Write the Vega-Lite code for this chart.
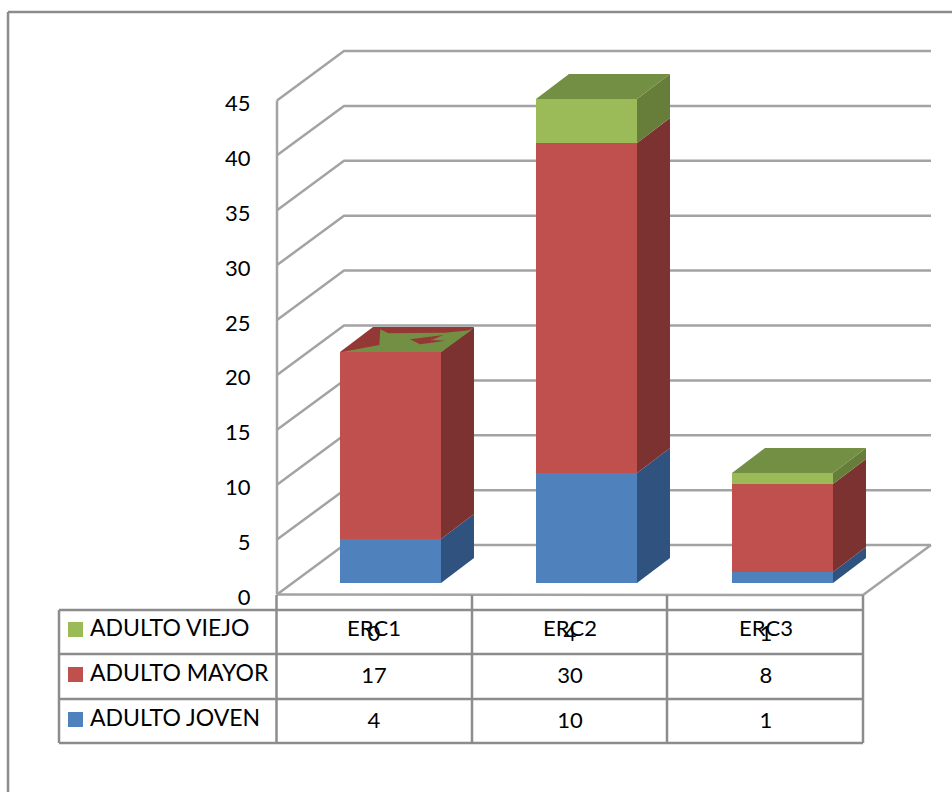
{
"$schema":"https://vega.github.io/schema/vega-lite/v6.json",
"width":952,"height":792,"padding":0,"autosize":"none","background":"white",
"config":{"view":{"stroke":null},"text":{"font":"Lato","fontSize":22,"color":"#000"}},
"datasets":{
"walls":[
{"line":"t0","x":0.5051,"y":0},{"line":"t0","x":3.4949,"y":-0.05},{"line":"t0","x":3.8418,"y":4.5},
{"line":"t0b","x":0.5051,"y":0},{"line":"t0b","x":0.8469,"y":4.5},{"line":"t0b","x":3.8418,"y":4.5},
{"line":"t5","x":0.5051,"y":5},{"line":"t5","x":0.8469,"y":9.5},{"line":"t5","x":3.8418,"y":9.5},
{"line":"t10","x":0.5051,"y":10},{"line":"t10","x":0.8469,"y":14.5},{"line":"t10","x":3.8418,"y":14.5},
{"line":"t15","x":0.5051,"y":15},{"line":"t15","x":0.8469,"y":19.5},{"line":"t15","x":3.8418,"y":19.5},
{"line":"t20","x":0.5051,"y":20},{"line":"t20","x":0.8469,"y":24.5},{"line":"t20","x":3.8418,"y":24.5},
{"line":"t25","x":0.5051,"y":25},{"line":"t25","x":0.8469,"y":29.5},{"line":"t25","x":3.8418,"y":29.5},
{"line":"t30","x":0.5051,"y":30},{"line":"t30","x":0.8469,"y":34.5},{"line":"t30","x":3.8418,"y":34.5},
{"line":"t35","x":0.5051,"y":35},{"line":"t35","x":0.8469,"y":39.5},{"line":"t35","x":3.8418,"y":39.5},
{"line":"t40","x":0.5051,"y":40},{"line":"t40","x":0.8469,"y":44.5},{"line":"t40","x":3.8418,"y":44.5},
{"line":"t45","x":0.5051,"y":45},{"line":"t45","x":0.8469,"y":49.5},{"line":"t45","x":3.8418,"y":49.5},
{"line":"wall","x":0.5051,"y":0},{"line":"wall","x":0.5051,"y":45}
],
"bars":[
{"x":1,"serie":"ADULTO JOVEN","rank":1,"value":4},
{"x":1,"serie":"ADULTO MAYOR","rank":2,"value":17},
{"x":1,"serie":"ADULTO VIEJO","rank":3,"value":0},
{"x":2,"serie":"ADULTO JOVEN","rank":1,"value":10},
{"x":2,"serie":"ADULTO MAYOR","rank":2,"value":30},
{"x":2,"serie":"ADULTO VIEJO","rank":3,"value":4},
{"x":3,"serie":"ADULTO JOVEN","rank":1,"value":1},
{"x":3,"serie":"ADULTO MAYOR","rank":2,"value":8},
{"x":3,"serie":"ADULTO VIEJO","rank":3,"value":1}
],
"sides":[
{"face":"1J","serie":"ADULTO JOVEN","x":1.3418,"y":0,"y2":4},{"face":"1J","serie":"ADULTO JOVEN","x":1.5102,"y":2.27,"y2":6.27},
{"face":"1M","serie":"ADULTO MAYOR","x":1.3418,"y":4,"y2":21},{"face":"1M","serie":"ADULTO MAYOR","x":1.5102,"y":6.27,"y2":23.27},
{"face":"2J","serie":"ADULTO JOVEN","x":2.3418,"y":0,"y2":10},{"face":"2J","serie":"ADULTO JOVEN","x":2.5102,"y":2.27,"y2":12.27},
{"face":"2M","serie":"ADULTO MAYOR","x":2.3418,"y":10,"y2":40},{"face":"2M","serie":"ADULTO MAYOR","x":2.5102,"y":12.27,"y2":42.27},
{"face":"2V","serie":"ADULTO VIEJO","x":2.3418,"y":40,"y2":44},{"face":"2V","serie":"ADULTO VIEJO","x":2.5102,"y":42.27,"y2":46.27},
{"face":"3J","serie":"ADULTO JOVEN","x":3.3418,"y":0,"y2":1},{"face":"3J","serie":"ADULTO JOVEN","x":3.5102,"y":2.27,"y2":3.27},
{"face":"3M","serie":"ADULTO MAYOR","x":3.3418,"y":1,"y2":9},{"face":"3M","serie":"ADULTO MAYOR","x":3.5102,"y":3.27,"y2":11.27},
{"face":"3V","serie":"ADULTO VIEJO","x":3.3418,"y":9,"y2":10},{"face":"3V","serie":"ADULTO VIEJO","x":3.5102,"y":11.27,"y2":12.27}
],
"tops":[
{"face":"1","serie":"ADULTO MAYOR","x":0.8265,"y":21,"y2":21},{"face":"1","serie":"ADULTO MAYOR","x":0.9949,"y":21,"y2":23.27},{"face":"1","serie":"ADULTO MAYOR","x":1.3418,"y":21,"y2":23.27},{"face":"1","serie":"ADULTO MAYOR","x":1.5102,"y":23.27,"y2":23.27},
{"face":"2","serie":"ADULTO VIEJO","x":1.8265,"y":44,"y2":44},{"face":"2","serie":"ADULTO VIEJO","x":1.9949,"y":44,"y2":46.27},{"face":"2","serie":"ADULTO VIEJO","x":2.3418,"y":44,"y2":46.27},{"face":"2","serie":"ADULTO VIEJO","x":2.5102,"y":46.27,"y2":46.27},
{"face":"3","serie":"ADULTO VIEJO","x":2.8265,"y":10,"y2":10},{"face":"3","serie":"ADULTO VIEJO","x":2.9949,"y":10,"y2":12.27},{"face":"3","serie":"ADULTO VIEJO","x":3.3418,"y":10,"y2":12.27},{"face":"3","serie":"ADULTO VIEJO","x":3.5102,"y":12.27,"y2":12.27}
],
"topOverlap":[
{"x":0.835,"y":21,"y2":21},{"x":1.0272,"y":21,"y2":21.64},{"x":1.0323,"y":21,"y2":23.06},{"x":1.0731,"y":21,"y2":22.7},{"x":1.3452,"y":21,"y2":22.76},{"x":1.3622,"y":21.25,"y2":22.76},{"x":1.4983,"y":23,"y2":23}
],
"topNotch":[
{"piece":"a","x":1.1837,"y":22.15,"y2":22.15},{"piece":"a","x":1.2347,"y":21.7,"y2":22.27},{"piece":"a","x":1.2942,"y":21.85,"y2":22.41},
{"piece":"b","x":1.2942,"y":22.09,"y2":22.41},{"piece":"b","x":1.3537,"y":22.55,"y2":22.55},
{"piece":"c","x":1.2942,"y":21.85,"y2":22.09},{"piece":"c","x":1.3622,"y":22.03,"y2":22.03}
],
"frame":[
{"line":"left","x":-0.8673,"y":-19},{"line":"left","x":-0.8673,"y":51.9},
{"line":"top","x":-0.8673,"y":51.9},{"line":"top","x":3.949,"y":51.9},
{"line":"h1","x":-0.6071,"y":-2.4545},{"line":"h1","x":3.4949,"y":-2.4545},
{"line":"h2","x":-0.6071,"y":-6.4545},{"line":"h2","x":3.4949,"y":-6.4545},
{"line":"h3","x":-0.6071,"y":-10.545},{"line":"h3","x":3.4949,"y":-10.545},
{"line":"h4","x":-0.6071,"y":-14.545},{"line":"h4","x":3.4949,"y":-14.545},
{"line":"v0","x":-0.6071,"y":-2.4545},{"line":"v0","x":-0.6071,"y":-14.545},
{"line":"v1","x":0.5026,"y":-1.1},{"line":"v1","x":0.5026,"y":-14.545},
{"line":"v2","x":1.5,"y":-1.1},{"line":"v2","x":1.5,"y":-14.545},
{"line":"v3","x":2.4949,"y":-1.1},{"line":"v3","x":2.4949,"y":-14.545},
{"line":"v4","x":3.4949,"y":-1.1},{"line":"v4","x":3.4949,"y":-14.545}
],
"swatches":[
{"serie":"ADULTO VIEJO","x":-0.523,"y":-4.227},
{"serie":"ADULTO MAYOR","x":-0.523,"y":-8.318},
{"serie":"ADULTO JOVEN","x":-0.523,"y":-12.409}
],
"rowNames":[
{"label":"ADULTO VIEJO","x":-0.449,"y":-4.2},
{"label":"ADULTO MAYOR","x":-0.449,"y":-8.3},
{"label":"ADULTO JOVEN","x":-0.449,"y":-12.4}
],
"cells":[
{"label":"ERC1","x":1,"y":-4.2},{"label":"ERC2","x":2,"y":-4.2},{"label":"ERC3","x":3,"y":-4.2},
{"label":"0","x":1,"y":-4.6},{"label":"4","x":2,"y":-4.6},{"label":"1","x":3,"y":-4.6},
{"label":"17","x":1,"y":-8.45},{"label":"30","x":2,"y":-8.45},{"label":"8","x":3,"y":-8.45},
{"label":"4","x":1,"y":-12.55},{"label":"10","x":2,"y":-12.55},{"label":"1","x":3,"y":-12.55}
]
},
"encoding":{"x":{"field":"x","type":"quantitative","scale":{"domain":[-0.90816,3.94898],"padding":0,"nice":false,"zero":false},"axis":null}},
"resolve":{"scale":{"y":"independent"}},
"layer":[
{
"data":{"name":"walls"},
"mark":{"type":"line","color":"#a3a3a3","strokeWidth":2.5,"strokeJoin":"round"},
"encoding":{
"detail":{"field":"line"},
"y":{"field":"y","type":"quantitative","scale":{"domain":[-17.987,54.144],"padding":0,"nice":false,"zero":false},
"axis":{"values":[0,5,10,15,20,25,30,35,40,45],"title":null,"orient":"left","domain":false,"ticks":false,"grid":false,"labelFont":"Lato","labelFontSize":22,"labelColor":"#000","labelPadding":0,"labelOffset":3,"offset":-250}}
}
},
{
"resolve":{"scale":{"color":"independent"}},
"layer":[
{
"data":{"name":"frame"},
"mark":{"type":"line","color":"#8c8c8c","strokeWidth":2.5},
"encoding":{"detail":{"field":"line"},"y":{"field":"y","type":"quantitative","scale":{"domain":[-19,53],"padding":0,"nice":false,"zero":false},"axis":null}}
},
{
"data":{"name":"sides"},
"mark":{"type":"area"},
"encoding":{
"detail":{"field":"face"},
"color":{"field":"serie","type":"nominal","legend":null,"scale":{"domain":["ADULTO JOVEN","ADULTO MAYOR","ADULTO VIEJO"],"range":["#30527f","#7b3230","#667e3a"]}},
"y":{"field":"y","type":"quantitative","stack":null,"scale":{"domain":[-19,53],"padding":0,"nice":false,"zero":false},"axis":null},
"y2":{"field":"y2"}
}
},
{
"data":{"name":"tops"},
"mark":{"type":"area"},
"encoding":{
"detail":{"field":"face"},
"color":{"field":"serie","type":"nominal","legend":null,"scale":{"domain":["ADULTO MAYOR","ADULTO VIEJO"],"range":["#943835","#738f43"]}},
"y":{"field":"y","type":"quantitative","stack":null,"scale":{"domain":[-19,53],"padding":0,"nice":false,"zero":false},"axis":null},
"y2":{"field":"y2"}
}
},
{
"data":{"name":"topOverlap"},
"mark":{"type":"area","color":"#738f43"},
"encoding":{"y":{"field":"y","type":"quantitative","stack":null,"scale":{"domain":[-19,53],"padding":0,"nice":false,"zero":false},"axis":null},"y2":{"field":"y2"}}
},
{
"data":{"name":"topNotch"},
"mark":{"type":"area","color":"#943835"},
"encoding":{"detail":{"field":"piece"},"y":{"field":"y","type":"quantitative","stack":null,"scale":{"domain":[-19,53],"padding":0,"nice":false,"zero":false},"axis":null},"y2":{"field":"y2"}}
},
{
"data":{"name":"bars"},
"mark":{"type":"bar","size":101,"xOffset":16.5,"orient":"vertical"},
"encoding":{
"color":{"field":"serie","type":"nominal","legend":null,"scale":{"domain":["ADULTO JOVEN","ADULTO MAYOR","ADULTO VIEJO"],"range":["#4f81bd","#c0504d","#9bbb59"]}},
"order":{"field":"rank","type":"quantitative"},
"y":{"field":"value","type":"quantitative","stack":"zero","scale":{"domain":[-19,53],"padding":0,"nice":false,"zero":false},"axis":null}
}
},
{
"data":{"name":"swatches"},
"mark":{"type":"square","size":225,"opacity":1},
"encoding":{
"color":{"field":"serie","type":"nominal","legend":null,"scale":{"domain":["ADULTO JOVEN","ADULTO MAYOR","ADULTO VIEJO"],"range":["#4f81bd","#c0504d","#9bbb59"]}},
"y":{"field":"y","type":"quantitative","scale":{"domain":[-19,53],"padding":0,"nice":false,"zero":false},"axis":null}
}
},
{
"data":{"name":"rowNames"},
"mark":{"type":"text","align":"left","baseline":"middle","fontSize":23},
"encoding":{"text":{"field":"label"},"y":{"field":"y","type":"quantitative","scale":{"domain":[-19,53],"padding":0,"nice":false,"zero":false},"axis":null}}
},
{
"data":{"name":"cells"},
"mark":{"type":"text","align":"center","baseline":"middle"},
"encoding":{"text":{"field":"label"},"y":{"field":"y","type":"quantitative","scale":{"domain":[-19,53],"padding":0,"nice":false,"zero":false},"axis":null}}
}
]
}
]
}
